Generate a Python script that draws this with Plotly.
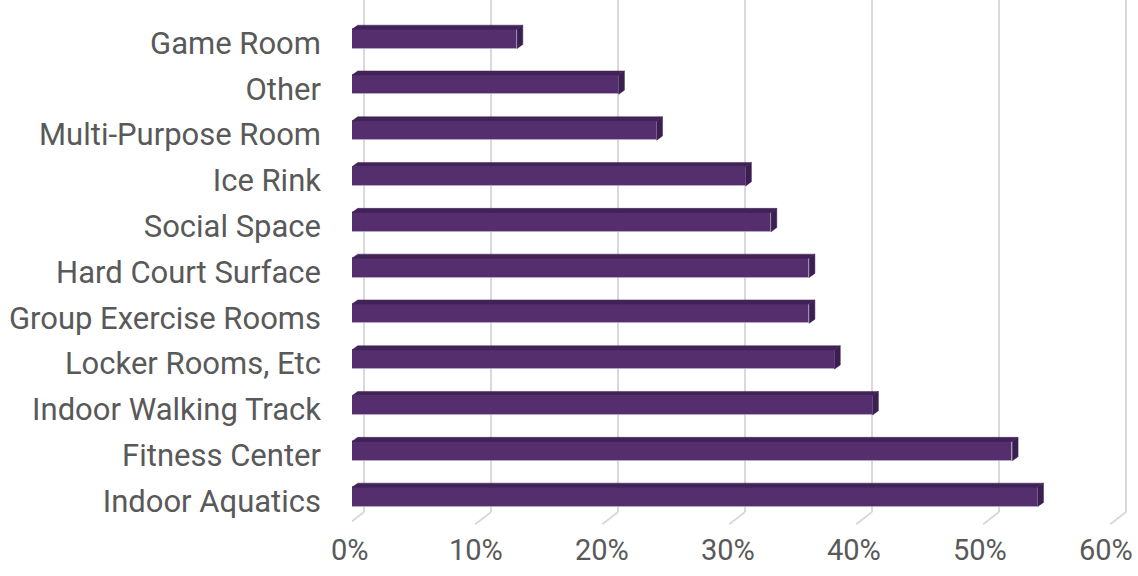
import plotly.graph_objects as go

categories = ["Indoor Aquatics", "Fitness Center", "Indoor Walking Track", "Locker Rooms, Etc",
              "Group Exercise Rooms", "Hard Court Surface", "Social Space", "Ice Rink",
              "Multi-Purpose Room", "Other", "Game Room"]
values = [54, 52, 41, 38, 36, 36, 33, 31, 24, 21, 13]
tick_vals = [0, 10, 20, 30, 40, 50, 60]
tick_text = ["0%", "10%", "20%", "30%", "40%", "50%", "60%"]

FRONT = "#552e6e"
TOP = "#412358"
SIDE = "#3a1f50"
GRID = "#d9d9d9"
TXT = "#595959"

X_MAX = 61.5
pos = list(range(len(categories)))
bar_w = 0.42
dx, dy = 0.45, 0.09          # depth of bar (data units)
gdx = 0.95                   # depth offset of back wall gridlines
foot = -0.3                  # front floor offset of gridline foot
label_scale = 0.9925         # perspective scale of the front floor labels
label_drop = 0.09            # category labels sit slightly lower (front plane)

fig = go.Figure()

tx, ty = [], []
sx, sy = [], []
for p, v in zip(pos, values):
    t = p + bar_w / 2
    b = p - bar_w / 2
    tx += [0, v, v + dx, dx, 0, None]
    ty += [t, t, t + dy, t + dy, t, None]
    sx += [v, v + dx, v + dx, v, v, None]
    sy += [b, b + dy, t + dy, t, b, None]

fig.add_trace(go.Bar(y=pos, x=values, orientation="h", width=bar_w,
                     marker=dict(color=FRONT, line=dict(color="rgba(190,170,210,0.7)", width=1)),
                     hoverinfo="skip"))
fig.add_trace(go.Scatter(x=tx, y=ty, fill="toself", mode="lines", fillcolor=TOP,
                         line=dict(color=TOP, width=0.5), hoverinfo="skip"))
fig.add_trace(go.Scatter(x=sx, y=sy, fill="toself", mode="lines", fillcolor=SIDE,
                         line=dict(color=SIDE, width=0.5), hoverinfo="skip"))

for tv, tt in zip(tick_vals, tick_text):
    fig.add_shape(type="line", xref="x", yref="paper", x0=tv + gdx, x1=tv + gdx, y0=0, y1=1,
                  line=dict(color=GRID, width=2), layer="below")
    fig.add_shape(type="line", xref="x", yref="paper", x0=tv + gdx, x1=tv + foot, y0=0, y1=-0.024,
                  line=dict(color=GRID, width=2), layer="below")
    fig.add_annotation(x=(tv * label_scale - 0.16) / X_MAX, xref="paper", y=-38 / 512, yref="paper",
                       text=tt, showarrow=False, xanchor="center", yanchor="middle",
                       font=dict(family="Roboto", size=29, color=TXT))

fig.update_layout(
    width=1138, height=576,
    margin=dict(l=352, r=5, t=0, b=64),
    paper_bgcolor="white", plot_bgcolor="white",
    showlegend=False,
    bargap=0,
    font=dict(family="Roboto", size=31, color=TXT),
    xaxis=dict(range=[0, X_MAX], showticklabels=False, showgrid=False,
               zeroline=False, showline=False, ticks="", fixedrange=True),
    yaxis=dict(range=[-0.33, 10.85], tickvals=[p - label_drop for p in pos], ticktext=categories,
               showgrid=False, zeroline=False, showline=False, ticks="", ticklabelstandoff=30,
               tickfont=dict(family="Roboto", size=31, color=TXT), fixedrange=True),
)

fig.write_html("out.html")
